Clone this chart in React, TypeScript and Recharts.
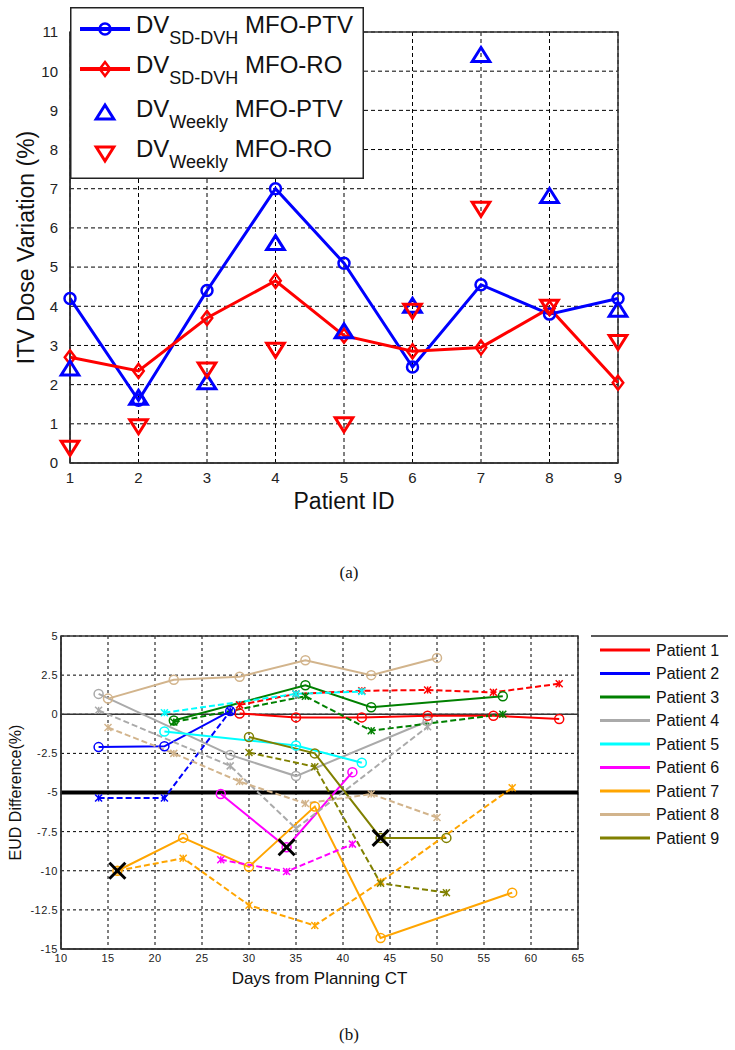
import React from 'react';
import {
  ComposedChart,
  LineChart,
  Line,
  XAxis,
  YAxis,
  CartesianGrid,
  ReferenceArea,
  ReferenceLine,
} from 'recharts';

const FONT = "'Liberation Sans', Arial, Helvetica, sans-serif";
const SERIF = "'Liberation Serif', 'Times New Roman', serif";

// ---- panel (a): ITV dose variation per patient ----
const patientIds = [1, 2, 3, 4, 5, 6, 7, 8, 9];
const sdDvhPtv = [4.2, 1.6, 4.4, 7.0, 5.1, 2.45, 4.55, 3.8, 4.2];
const sdDvhRo = [2.7, 2.35, 3.7, 4.65, 3.25, 2.85, 2.95, 3.95, 2.05];
const weeklyPtv = [2.4, 1.65, 2.05, 5.6, 3.35, 4.0, 10.4, 6.8, 3.9];
const weeklyRo = [0.4, 0.95, 2.4, 2.9, 1.0, 3.9, 6.5, 4.0, 3.1];
const doseTicks = [0, 1, 2, 3, 4, 5, 6, 7, 8, 9, 10, 11];

// ---- panel (b): EUD difference vs days from planning CT ----
const p1Days = [29, 35, 42, 49, 56, 63];
const p1Solid = [0.05, -0.2, -0.2, -0.1, -0.1, -0.3];
const p1Dashed = [0.6, 1.3, 1.5, 1.55, 1.4, 1.95];
const p2Days = [14, 21, 28];
const p2Solid = [-2.1, -2.05, 0.2];
const p2Dashed = [-5.35, -5.35, 0.2];
const p3Days = [22, 36, 43, 57];
const p3Solid = [-0.4, 1.85, 0.45, 1.15];
const p3Dashed = [-0.5, 1.15, -1.05, 0.0];
const p4Days = [14, 28, 35, 49];
const p4Solid = [1.3, -2.6, -3.95, -0.45];
const p4Dashed = [0.25, -3.3, -7.3, -0.8];
const p5Days = [21, 35, 42];
const p5Solid = [-1.1, -2.0, -3.1];
const p5Dashed = [0.1, 1.3, 1.45];
const p6Days = [27, 34, 41];
const p6Solid = [-5.1, -8.5, -3.7];
const p6Dashed = [-9.3, -10.05, -8.3];
const p7Days = [16, 23, 30, 37, 44, 58];
const p7Solid = [-10, -7.9, -9.75, -5.9, -14.3, -11.4];
const p7Dashed = [-10, -9.2, -12.2, -13.5, -10.7, -4.7];
const p8Days = [15, 22, 29, 36, 43, 50];
const p8Solid = [1.0, 2.2, 2.4, 3.45, 2.5, 3.6];
const p8Dashed = [-0.85, -2.5, -4.3, -5.7, -5.1, -6.6];
const p9Days = [30, 37, 44, 51];
const p9Solid = [-1.45, -2.5, -7.9, -7.9];
const p9Dashed = [-2.45, -3.35, -10.8, -11.4];
const flaggedDays = [16, 34, 44];
const flaggedValues = [-10, -8.5, -7.9];
const dayTicks = [10, 15, 20, 25, 30, 35, 40, 45, 50, 55, 60, 65];
const eudTicks = [-15, -12.5, -10, -7.5, -5, -2.5, 0, 2.5, 5];

const patientNames = ['Patient 1', 'Patient 2', 'Patient 3', 'Patient 4', 'Patient 5', 'Patient 6', 'Patient 7', 'Patient 8', 'Patient 9'];
const patientColors = ['#ff0000', '#0000ff', '#008000', '#aaaaaa', '#00ffff', '#ff00ff', '#ffa500', '#d2b48c', '#808000'];

const doseRows = patientIds.map((id, i) => ({
  id,
  sdPtv: sdDvhPtv[i],
  sdRo: sdDvhRo[i],
  wkPtv: weeklyPtv[i],
  wkRo: weeklyRo[i],
}));

const toPoints = (days: number[], vals: number[]) => days.map((day, i) => ({ day, v: vals[i] }));

const patientSeries = [
  { days: p1Days, solid: p1Solid, dashed: p1Dashed },
  { days: p2Days, solid: p2Solid, dashed: p2Dashed },
  { days: p3Days, solid: p3Solid, dashed: p3Dashed },
  { days: p4Days, solid: p4Solid, dashed: p4Dashed },
  { days: p5Days, solid: p5Solid, dashed: p5Dashed },
  { days: p6Days, solid: p6Solid, dashed: p6Dashed },
  { days: p7Days, solid: p7Solid, dashed: p7Dashed },
  { days: p8Days, solid: p8Solid, dashed: p8Dashed },
  { days: p9Days, solid: p9Solid, dashed: p9Dashed },
];

type Kind = 'circle' | 'diamond' | 'triUp' | 'triDown' | 'star' | 'bigX';

function Mark({ kind, cx, cy, color, size, width }: { kind: Kind; cx: number; cy: number; color: string; size: number; width: number }) {
  const common = { fill: 'none', stroke: color, strokeWidth: width };
  switch (kind) {
    case 'circle':
      return <circle cx={cx} cy={cy} r={size} {...common} />;
    case 'diamond':
      return (
        <polygon
          points={`${cx},${cy - size} ${cx + size * 0.75},${cy} ${cx},${cy + size} ${cx - size * 0.75},${cy}`}
          {...common}
        />
      );
    case 'triUp':
      return (
        <polygon
          points={`${cx},${cy - size} ${cx + size * 1.1},${cy + size * 0.75} ${cx - size * 1.1},${cy + size * 0.75}`}
          {...common}
          strokeLinejoin="miter"
        />
      );
    case 'triDown':
      return (
        <polygon
          points={`${cx},${cy + size} ${cx + size * 1.1},${cy - size * 0.75} ${cx - size * 1.1},${cy - size * 0.75}`}
          {...common}
          strokeLinejoin="miter"
        />
      );
    case 'star':
      return (
        <g stroke={color} strokeWidth={width}>
          <line x1={cx - size} y1={cy - size} x2={cx + size} y2={cy + size} />
          <line x1={cx - size} y1={cy + size} x2={cx + size} y2={cy - size} />
          <line x1={cx} y1={cy - size} x2={cx} y2={cy + size} />
        </g>
      );
    case 'bigX':
      return (
        <g stroke={color} strokeWidth={width}>
          <line x1={cx - size} y1={cy - size} x2={cx + size} y2={cy + size} />
          <line x1={cx - size} y1={cy + size} x2={cx + size} y2={cy - size} />
        </g>
      );
  }
  return null;
}

const dot = (kind: Kind, color: string, size: number, width: number) => (p: any) => {
  if (p.cx == null || p.cy == null) return <g key={`${kind}-${p.index}`} />;
  return (
    <g key={`${kind}-${color}-${p.index}`}>
      <Mark kind={kind} cx={p.cx} cy={p.cy} color={color} size={size} width={width} />
    </g>
  );
};

function DoseLegend() {
  const rows = [
    { sub: 'SD-DVH', rest: ' MFO-PTV', color: '#0000ff', kind: 'circle' as Kind, line: true },
    { sub: 'SD-DVH', rest: ' MFO-RO', color: '#ff0000', kind: 'diamond' as Kind, line: true },
    { sub: 'Weekly', rest: ' MFO-PTV', color: '#0000ff', kind: 'triUp' as Kind, line: false },
    { sub: 'Weekly', rest: ' MFO-RO', color: '#ff0000', kind: 'triDown' as Kind, line: false },
  ];
  const baselines = [26, 66, 110, 150];
  return (
    <svg width={294} height={172} style={{ position: 'absolute', left: 70, top: 7 }}>
      <rect x={0.75} y={0.75} width={292.5} height={170.5} fill="#fff" stroke="#222" strokeWidth={1.5} />
      {rows.map((r, i) => {
        const b = baselines[i];
        const my = b - 4;
        return (
          <g key={i}>
            {r.line && <line x1={10} y1={my} x2={60} y2={my} stroke={r.color} strokeWidth={4} />}
            <Mark
              kind={r.kind}
              cx={35}
              cy={my}
              color={r.color}
              size={r.kind === 'circle' ? 5.5 : r.kind === 'diamond' ? 7 : 8}
              width={r.kind === 'circle' || r.kind === 'diamond' ? 2.5 : 3}
            />
            <text x={66} y={b} fontFamily={FONT} fontSize={24} fill="#111">
              <tspan>DV</tspan>
              <tspan dy={11} fontSize={18}>{r.sub}</tspan>
              <tspan dy={-11}>{r.rest}</tspan>
            </text>
          </g>
        );
      })}
    </svg>
  );
}

function PatientLegend() {
  return (
    <svg width={150} height={230} style={{ position: 'absolute', left: 585, top: 40 }}>
      <line x1={6} y1={6} x2={143} y2={6} stroke="#222" strokeWidth={1.5} />
      {patientNames.map((name, i) => {
        const y = 20 + i * 23.5;
        return (
          <g key={name}>
            <line x1={15} y1={y} x2={65} y2={y} stroke={patientColors[i]} strokeWidth={3} />
            <text x={71} y={y} dy="0.36em" fontFamily={FONT} fontSize={16} fill="#111">
              {name}
            </text>
          </g>
        );
      })}
    </svg>
  );
}

export default function App() {
  const tickA = { fontSize: 15, fill: '#222', fontFamily: FONT };
  const tickB = { fontSize: 11, fill: '#222', fontFamily: FONT, letterSpacing: 0.5 };
  return (
    <div style={{ position: 'absolute', left: 0, top: 0, width: 735, height: 1050, background: '#fff', fontFamily: FONT }}>
      {/* panel (a) */}
      <div style={{ position: 'absolute', left: 0, top: 0 }}>
        <ComposedChart width={735} height={600} data={doseRows} margin={{ top: 32, right: 117, bottom: 107, left: 0 }}>
          <CartesianGrid stroke="#000" strokeDasharray="4 3" />
          <XAxis
            dataKey="id"
            type="number"
            domain={[1, 9]}
            ticks={patientIds}
            interval={0}
            height={30}
            tickSize={0}
            tickMargin={9}
            tickLine={false}
            axisLine={{ stroke: '#333', strokeWidth: 1.5 }}
            tick={tickA}
            label={{ value: 'Patient ID', position: 'bottom', offset: 0, fontSize: 23, fill: '#111', fontFamily: FONT }}
          />
          <YAxis
            type="number"
            domain={[0, 11]}
            ticks={doseTicks}
            interval={0}
            width={70}
            tickSize={0}
            tickMargin={12}
            tickLine={false}
            axisLine={{ stroke: '#333', strokeWidth: 1.5 }}
            tick={tickA}
            label={{
              value: 'ITV Dose Variation (%)',
              angle: -90,
              position: 'insideLeft',
              offset: 26,
              fontSize: 23,
              fill: '#111',
              fontFamily: FONT,
              style: { textAnchor: 'middle' },
            }}
          />
          <ReferenceArea x1={1} x2={9} y1={0} y2={11} fill="none" stroke="#333" strokeWidth={1.5} ifOverflow="visible" />
          <Line dataKey="sdPtv" stroke="#0000ff" strokeWidth={3} dot={dot('circle', '#0000ff', 5.5, 2.5)} activeDot={false} isAnimationActive={false} />
          <Line dataKey="sdRo" stroke="#ff0000" strokeWidth={3} dot={dot('diamond', '#ff0000', 7, 2.5)} activeDot={false} isAnimationActive={false} />
          <Line dataKey="wkPtv" stroke="none" strokeWidth={0} dot={dot('triUp', '#0000ff', 8, 3)} activeDot={false} isAnimationActive={false} />
          <Line dataKey="wkRo" stroke="none" strokeWidth={0} dot={dot('triDown', '#ff0000', 8, 3)} activeDot={false} isAnimationActive={false} />
        </ComposedChart>
        <DoseLegend />
      </div>
      <div style={{ position: 'absolute', left: 299, top: 562, width: 100, textAlign: 'center', fontFamily: SERIF, fontSize: 17, lineHeight: '22px', color: '#111' }}>
        (a)
      </div>

      {/* panel (b) */}
      <div style={{ position: 'absolute', left: 0, top: 590 }}>
        <LineChart width={735} height={460} margin={{ top: 46, right: 157, bottom: 78, left: 0 }}>
          <CartesianGrid stroke="#000" strokeDasharray="3 3" />
          <XAxis
            dataKey="day"
            type="number"
            domain={[10, 65]}
            ticks={dayTicks}
            interval={0}
            allowDataOverflow
            height={23}
            tickSize={0}
            tickMargin={5}
            tickLine={false}
            axisLine={{ stroke: '#333', strokeWidth: 1.5 }}
            tick={tickB}
            label={{ value: 'Days from Planning CT', position: 'bottom', offset: 0, fontSize: 17, fill: '#111', fontFamily: FONT }}
          />
          <YAxis
            type="number"
            domain={[-15, 5]}
            ticks={eudTicks}
            interval={0}
            allowDataOverflow
            width={61}
            tickSize={0}
            tickMargin={3}
            tickLine={false}
            axisLine={{ stroke: '#333', strokeWidth: 1.5 }}
            tick={tickB}
            label={{
              value: 'EUD Difference(%)',
              angle: -90,
              position: 'insideLeft',
              offset: 15,
              fontSize: 16,
              fill: '#111',
              fontFamily: FONT,
              style: { textAnchor: 'middle' },
            }}
          />
          <ReferenceArea x1={10} x2={65} y1={-15} y2={5} fill="none" stroke="#333" strokeWidth={1.5} ifOverflow="visible" />
          <ReferenceLine y={0} stroke="#333" strokeWidth={1.5} />
          <ReferenceLine y={-5} stroke="#000" strokeWidth={4} />
          {patientSeries.map((s, i) => (
            <Line
              key={`solid-${i}`}
              data={toPoints(s.days, s.solid)}
              dataKey="v"
              stroke={patientColors[i]}
              strokeWidth={2}
              dot={dot('circle', patientColors[i], 4.5, 1.5)}
              activeDot={false}
              isAnimationActive={false}
            />
          ))}
          {patientSeries.map((s, i) => (
            <Line
              key={`dashed-${i}`}
              data={toPoints(s.days, s.dashed)}
              dataKey="v"
              stroke={patientColors[i]}
              strokeWidth={2}
              strokeDasharray="6 3"
              dot={dot('star', patientColors[i], 3.5, 1.5)}
              activeDot={false}
              isAnimationActive={false}
            />
          ))}
          <Line
            data={toPoints(flaggedDays, flaggedValues)}
            dataKey="v"
            stroke="none"
            strokeWidth={0}
            dot={dot('bigX', '#000', 8, 3)}
            activeDot={false}
            isAnimationActive={false}
          />
        </LineChart>
        <PatientLegend />
      </div>
      <div style={{ position: 'absolute', left: 299, top: 1024, width: 100, textAlign: 'center', fontFamily: SERIF, fontSize: 17, lineHeight: '22px', color: '#111' }}>
        (b)
      </div>
    </div>
  );
}
